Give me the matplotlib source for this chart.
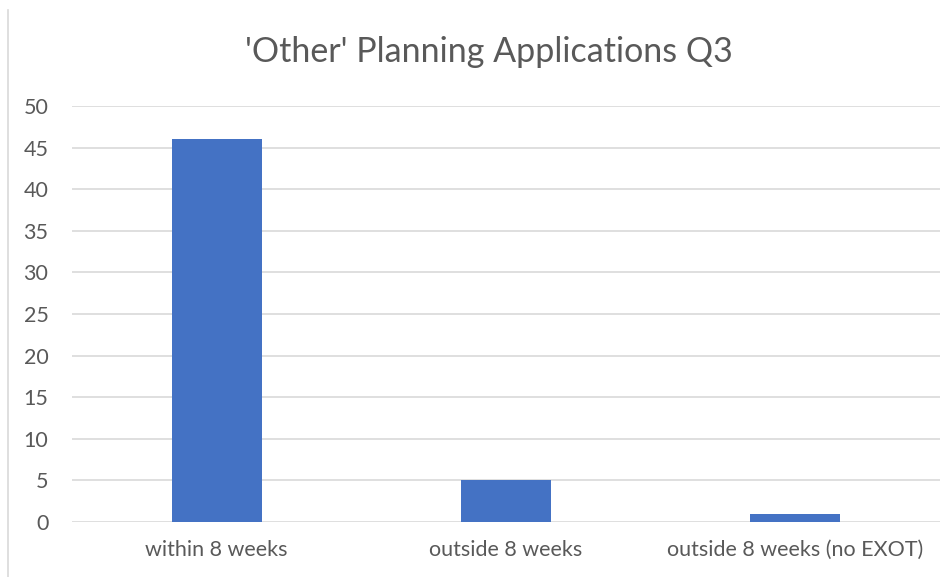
import matplotlib.pyplot as plt
import numpy as np

categories = ['within 8 weeks', 'outside 8 weeks', 'outside 8 weeks (no EXOT)']
values = [46, 5, 1]
yticks = [0, 5, 10, 15, 20, 25, 30, 35, 40, 45, 50]

plt.rcParams['font.family'] = ['Lato', 'DejaVu Sans']
grey = '#595959'

fig = plt.figure(figsize=(9.46, 5.77), dpi=100)
ax = fig.add_axes([72 / 946, 55 / 577, 868 / 946, 416 / 577])

x = np.arange(len(categories))
ax.bar(x, values, width=0.31, color='#4472C4', zorder=3)

ax.set_xlim(-0.5, len(categories) - 0.5)
ax.set_ylim(0, 50)
ax.set_yticks(yticks)
ax.set_xticks(x)
ax.set_xticklabels(categories)
ax.tick_params(axis='both', length=0, colors=grey, labelsize=15.5)
ax.tick_params(axis='x', pad=13)
ax.tick_params(axis='y', pad=17)
for lbl in ax.get_yticklabels():
    lbl.set_horizontalalignment('right')

ax.grid(axis='y', color='#d9d9d9', linewidth=1.2, zorder=0)
for s in ax.spines.values():
    s.set_visible(False)

fig.text(489 / 946, 1 - 52 / 577, "'Other' Planning Applications Q3",
         ha='center', va='center', fontsize=24.5, color=grey)

# chart border on the left
fig.add_artist(plt.Line2D([8 / 946, 8 / 946], [0, 1 - 10 / 577],
                          color='#d9d9d9', linewidth=1.2))

fig.savefig('out.png', dpi=100)
